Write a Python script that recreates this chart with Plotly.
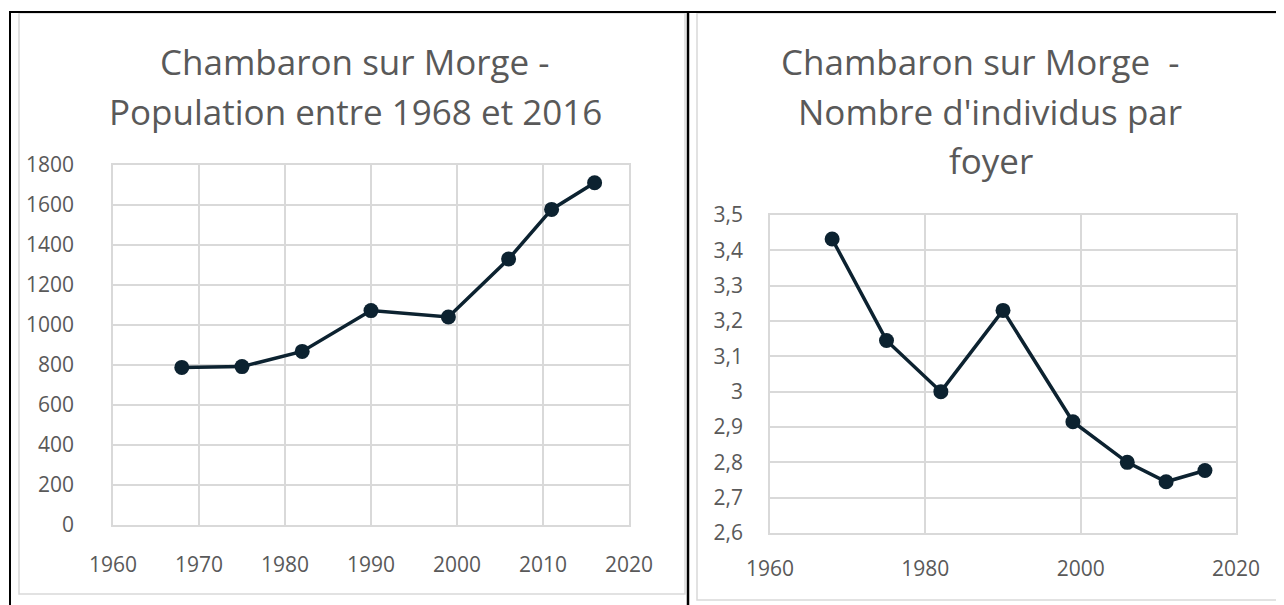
import plotly.graph_objects as go

# ---- data ----
years = [1968, 1975, 1982, 1990, 1999, 2006, 2011, 2016]
population = [788, 792, 868, 1072, 1040, 1330, 1578, 1711]
persons_per_household = [3.432, 3.145, 3.0, 3.23, 2.915, 2.80, 2.745, 2.777]

pop_yticks = [0, 200, 400, 600, 800, 1000, 1200, 1400, 1600, 1800]
pop_xticks = [1960, 1970, 1980, 1990, 2000, 2010, 2020]
hh_yticks = [2.6, 2.7, 2.8, 2.9, 3.0, 3.1, 3.2, 3.3, 3.4, 3.5]
hh_yticktext = ["2,6", "2,7", "2,8", "2,9", "3", "3,1", "3,2", "3,3", "3,4", "3,5"]
hh_xticks = [1960, 1980, 2000, 2020]

title_left = ["Chambaron sur Morge -", "Population entre 1968 et 2016"]
title_right = ["Chambaron sur Morge  -", "Nombre d'individus par", "foyer"]

# page body has an 8px margin: build figure to fit in the remaining viewport
OFF = 8
W, H = 1284 - OFF, 605 - OFF
FONT = "Open Sans, Noto Sans, sans-serif"
GREY_TXT = "#595959"
GRID = "#d9d9d9"
LINE = "#0c2230"

def px(x):
    return (x - OFF) / W

def py(y):
    return 1 - (y - OFF) / H

fig = go.Figure()
fig.add_trace(go.Scatter(x=years, y=population, mode="lines+markers",
                         line=dict(color=LINE, width=3.5),
                         marker=dict(color=LINE, size=15),
                         xaxis="x", yaxis="y", showlegend=False))
fig.add_trace(go.Scatter(x=years, y=persons_per_household, mode="lines+markers",
                         line=dict(color=LINE, width=3.5),
                         marker=dict(color=LINE, size=15),
                         xaxis="x2", yaxis="y2", showlegend=False))

axis_common = dict(showgrid=True, gridcolor=GRID, gridwidth=1.5, zeroline=False,
                   showline=True, linecolor=GRID, linewidth=1.5, mirror=True,
                   automargin=False, fixedrange=True,
                   ticks="", tickfont=dict(family=FONT, size=21, color=GREY_TXT))

fig.update_layout(
    width=W, height=H,
    margin=dict(l=0, r=0, t=0, b=0, autoexpand=False),
    paper_bgcolor="white", plot_bgcolor="white",
    xaxis=dict(domain=[px(113), px(629)], range=[1960, 2020], tickvals=pop_xticks,
               anchor="y", ticklabelstandoff=20, **axis_common),
    yaxis=dict(domain=[py(525), py(165)], range=[0, 1800], tickvals=pop_yticks,
               anchor="x", ticklabelstandoff=33, **axis_common),
    xaxis2=dict(domain=[px(770), px(1236)], range=[1960, 2020], tickvals=hh_xticks,
                anchor="y2", ticklabelstandoff=16, **axis_common),
    yaxis2=dict(domain=[py(533), py(215)], range=[2.6, 3.5], tickvals=hh_yticks,
                ticktext=hh_yticktext, anchor="x2", ticklabelstandoff=21, **axis_common),
)

# titles
left_cx = [355, 355]
right_cx = [981, 990, 991]
for i, t in enumerate(title_left):
    fig.add_annotation(text=t, x=px(left_cx[i]), y=py(62 + 50 * i), xref="paper", yref="paper",
                       showarrow=False, xanchor="center", yanchor="middle",
                       font=dict(family=FONT, size=35, color=GREY_TXT))
for i, t in enumerate(title_right):
    fig.add_annotation(text=t.replace("  ", "&nbsp; "), x=px(right_cx[i]), y=py(62 + 49 * i),
                       xref="paper", yref="paper",
                       showarrow=False, xanchor="center", yanchor="middle",
                       font=dict(family=FONT, size=35, color=GREY_TXT))

shapes = []
# chart boxes (light grey)
shapes.append(dict(type="rect", xref="paper", yref="paper", x0=px(19), x1=px(685),
                   y0=py(594), y1=py(13), line=dict(color=GRID, width=1.5)))
shapes.append(dict(type="rect", xref="paper", yref="paper", x0=px(697), x1=px(1295),
                   y0=py(600), y1=py(13), line=dict(color=GRID, width=1.5)))
# black table borders
shapes.append(dict(type="line", xref="paper", yref="paper", x0=px(9), x1=1.0,
                   y0=py(12), y1=py(12), line=dict(color="black", width=2)))
shapes.append(dict(type="line", xref="paper", yref="paper", x0=px(10), x1=px(10),
                   y0=py(11), y1=0, line=dict(color="black", width=2)))
shapes.append(dict(type="line", xref="paper", yref="paper", x0=px(688), x1=px(688),
                   y0=py(11), y1=0, line=dict(color="black", width=2.5)))
fig.update_layout(shapes=shapes)

fig.write_html("out.html", config={"displayModeBar": False})
